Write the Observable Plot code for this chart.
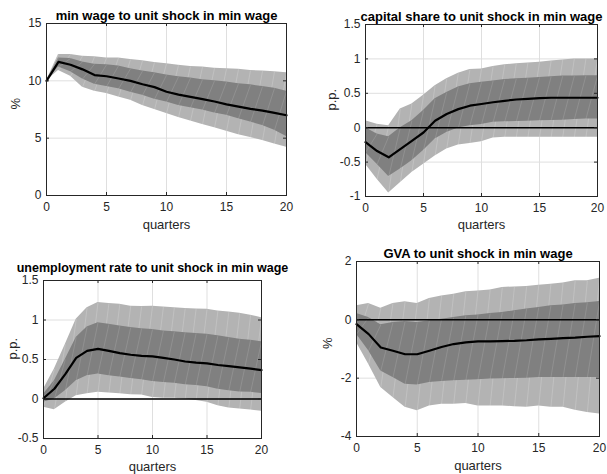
<!DOCTYPE html>
<html>
<head>
<meta charset="utf-8">
<script src="https://cdn.jsdelivr.net/npm/d3@7"></script>
<script src="https://cdn.jsdelivr.net/npm/@observablehq/plot@0.6"></script>
<style>
  html, body { margin: 0; padding: 0; background: #fff; }
  #root { position: relative; width: 607px; height: 474px; overflow: hidden; background: #fff; }
  .panel { position: absolute; }
  .panel svg { overflow: visible; }
</style>
</head>
<body>
<div id="root"></div>
<script>
// ---------- data ----------
const quarters = [0,1,2,3,4,5,6,7,8,9,10,11,12,13,14,15,16,17,18,19,20];
const xTicks = [0, 5, 10, 15, 20];

// Panel 1: min wage
const wageMed  = [10.0,11.65,11.4,11.0,10.5,10.4,10.2,10.0,9.7,9.45,9.05,8.8,8.6,8.4,8.2,7.95,7.75,7.55,7.4,7.2,7.0];
const wageHi90 = [10.0,12.3,12.3,12.15,12.1,12.0,12.0,11.85,11.75,11.6,11.5,11.35,11.25,11.2,11.1,11.05,11.0,10.9,10.85,10.8,10.7];
const wageHi68 = [10.0,12.0,11.95,11.65,11.45,11.4,11.3,11.05,10.85,10.7,10.5,10.35,10.25,10.1,10.0,9.9,9.75,9.65,9.5,9.35,9.1];
const wageLo68 = [10.0,11.2,10.8,10.15,9.7,9.5,9.3,9.0,8.75,8.4,8.15,7.85,7.65,7.45,7.2,7.0,6.7,6.4,6.1,5.7,5.15];
const wageLo90 = [10.0,10.9,10.4,9.45,9.1,8.9,8.6,8.3,7.85,7.5,7.15,6.8,6.5,6.2,5.9,5.6,5.3,5.05,4.8,4.5,4.2];
const wageYTicks = [0, 5, 10, 15];

// Panel 2: capital share
const capMed  = [-0.21,-0.34,-0.43,-0.31,-0.19,-0.07,0.10,0.20,0.27,0.32,0.345,0.37,0.39,0.41,0.42,0.43,0.435,0.435,0.435,0.435,0.435];
const capHi90 = [0.10,0.05,0.03,0.27,0.345,0.47,0.61,0.71,0.79,0.845,0.855,0.89,0.915,0.93,0.94,0.95,0.97,0.985,1.0,1.0,1.0];
const capHi68 = [0.0,-0.09,-0.13,0.0,0.10,0.25,0.42,0.51,0.59,0.64,0.66,0.68,0.70,0.71,0.72,0.73,0.74,0.75,0.75,0.755,0.755];
const capLo68 = [-0.36,-0.53,-0.71,-0.60,-0.48,-0.33,-0.165,-0.07,-0.005,0.03,0.045,0.08,0.085,0.09,0.095,0.10,0.105,0.11,0.12,0.125,0.125];
const capLo90 = [-0.53,-0.75,-0.95,-0.80,-0.65,-0.53,-0.41,-0.31,-0.25,-0.23,-0.205,-0.15,-0.14,-0.14,-0.14,-0.14,-0.14,-0.14,-0.14,-0.14,-0.14];
const capYTicks = [-1, -0.5, 0, 0.5, 1, 1.5];

// Panel 3: unemployment rate
const unMed  = [0.01,0.13,0.315,0.52,0.61,0.635,0.61,0.58,0.56,0.545,0.54,0.52,0.50,0.475,0.46,0.45,0.43,0.415,0.40,0.385,0.365];
const unHi90 = [0.125,0.38,0.69,1.01,1.155,1.22,1.21,1.20,1.175,1.17,1.175,1.165,1.155,1.145,1.14,1.135,1.115,1.10,1.085,1.06,1.03];
const unHi68 = [0.06,0.23,0.50,0.78,0.91,0.965,0.945,0.925,0.905,0.89,0.88,0.86,0.85,0.84,0.83,0.82,0.80,0.78,0.755,0.745,0.725];
const unLo68 = [-0.04,0.0,0.105,0.23,0.295,0.315,0.295,0.28,0.26,0.245,0.22,0.21,0.20,0.18,0.17,0.155,0.125,0.105,0.09,0.085,0.07];
const unLo90 = [-0.105,-0.135,-0.04,0.04,0.065,0.085,0.075,0.065,0.055,0.05,0.02,0.01,0.01,0.0,-0.02,-0.04,-0.085,-0.115,-0.125,-0.14,-0.155];
const unYTicks = [-0.5, 0, 0.5, 1, 1.5];

// Panel 4: GVA
const gvaMed  = [-0.15,-0.49,-0.95,-1.06,-1.18,-1.18,-1.06,-0.93,-0.83,-0.77,-0.74,-0.74,-0.73,-0.72,-0.70,-0.67,-0.65,-0.63,-0.61,-0.58,-0.56];
const gvaHi90 = [0.48,0.56,0.40,0.56,0.62,0.56,0.73,0.82,0.88,0.96,0.99,1.02,1.11,1.13,1.14,1.19,1.22,1.26,1.34,1.34,1.43];
const gvaHi68 = [0.22,0.08,-0.17,-0.09,-0.06,-0.09,-0.03,0.02,0.08,0.14,0.17,0.22,0.25,0.31,0.37,0.42,0.48,0.51,0.56,0.59,0.63];
const gvaLo68 = [-0.49,-1.06,-1.75,-1.98,-2.21,-2.23,-2.15,-2.11,-2.09,-2.07,-2.05,-2.03,-2.02,-2.01,-2.0,-1.98,-1.98,-1.98,-1.98,-1.98,-1.98];
const gvaLo90 = [-0.78,-1.52,-2.32,-2.66,-3.0,-3.12,-2.95,-2.89,-2.89,-2.87,-2.95,-2.95,-2.95,-2.98,-3.0,-2.95,-3.0,-3.0,-3.1,-3.18,-3.23];
const gvaYTicks = [-4, -2, 0, 2];

// ---------- drawing ----------
const FONT = "'Liberation Sans', Arial, Helvetica, sans-serif";
const AXIS = "#262626";
const GRID = "#dfdfdf";
const LIGHT = "#b3b3b3";
const DARK = "#808080";
const TICK_FS = 12;
const LABEL_FS = 13;

function makePanel(cfg) {
  const rows = quarters.map((q, i) => ({
    q, med: cfg.med[i], hi90: cfg.hi90[i], hi68: cfg.hi68[i], lo68: cfg.lo68[i], lo90: cfg.lo90[i]
  }));
  const seams = (lo, hi) => rows.slice(0, -1).map((r, i) => ({
    x1: r.q, y1: rows[i][lo], x2: rows[i + 1].q, y2: rows[i + 1][hi]
  }));
  const fw = cfg.width - cfg.ml - cfg.mr;
  const fh = cfg.height - cfg.mt - cfg.mb;
  const TL = 3;
  const fmt = d => String(d);
  const marks = [
    Plot.ruleX(xTicks, {stroke: GRID, strokeWidth: 1}),
    Plot.ruleY(cfg.yTicks, {stroke: GRID, strokeWidth: 1}),
    Plot.areaY(rows, {x: "q", y1: "lo90", y2: "hi90", fill: LIGHT}),
    Plot.link(seams("lo90", "hi90"), {x1: "x1", y1: "y1", x2: "x2", y2: "y2", stroke: "white", strokeOpacity: 0.3, strokeWidth: 0.6}),
    Plot.areaY(rows, {x: "q", y1: "lo68", y2: "hi68", fill: DARK}),
    Plot.link(seams("lo68", "hi68"), {x1: "x1", y1: "y1", x2: "x2", y2: "y2", stroke: "white", strokeOpacity: 0.22, strokeWidth: 0.6}),
  ];
  if (cfg.zero) marks.push(Plot.ruleY([0], {stroke: "black", strokeWidth: 1.5}));
  marks.push(
    Plot.lineY(rows, {x: "q", y: "med", stroke: "black", strokeWidth: 2.2}),
    Plot.frame({stroke: AXIS, strokeWidth: 1}),
    Plot.ruleX(xTicks, {stroke: AXIS, insetTop: fh - TL}),
    Plot.ruleX(xTicks, {stroke: AXIS, insetBottom: fh - TL}),
    Plot.ruleY(cfg.yTicks, {stroke: AXIS, insetRight: fw - TL}),
    Plot.ruleY(cfg.yTicks, {stroke: AXIS, insetLeft: fw - TL}),
    Plot.axisX(xTicks, {tickSize: 0, tickPadding: 7, tickFormat: fmt, label: null, fill: AXIS, fontSize: TICK_FS}),
    Plot.axisY(cfg.yTicks, {tickSize: 0, tickPadding: 5, tickFormat: fmt, label: null, fill: AXIS, fontSize: TICK_FS}),
    Plot.text(["quarters"], {frameAnchor: "bottom", dy: cfg.qdy, text: d => d, fill: AXIS, fontSize: LABEL_FS}),
    Plot.text([cfg.ylabel], {frameAnchor: "left", dx: -cfg.ydx, rotate: -90, text: d => d, fill: AXIS, fontSize: LABEL_FS}),
    Plot.text([cfg.title], {frameAnchor: "top", dy: -cfg.tdy, lineAnchor: "bottom", text: d => d, fill: "black", fontWeight: "bold", fontSize: cfg.tfs})
  );
  const svg = Plot.plot({
    width: cfg.width, height: cfg.height,
    marginLeft: cfg.ml, marginRight: cfg.mr, marginTop: cfg.mt, marginBottom: cfg.mb,
    x: {domain: [0, 20], axis: null},
    y: {domain: cfg.yDomain, axis: null},
    style: {fontFamily: FONT, fontSize: "12px", color: AXIS, background: "transparent", overflow: "visible"},
    marks
  });
  const div = document.createElement("div");
  div.className = "panel";
  div.style.left = cfg.left + "px";
  div.style.top = cfg.top + "px";
  div.appendChild(svg);
  document.getElementById("root").appendChild(div);
}

makePanel({
  left: 0, top: 0, width: 303, height: 237, ml: 46, mr: 17, mt: 23, mb: 42,
  med: wageMed, hi90: wageHi90, hi68: wageHi68, lo68: wageLo68, lo90: wageLo90,
  yDomain: [0, 15], yTicks: wageYTicks, zero: false,
  title: "min wage to unit shock in min wage", ylabel: "%", tdy: 4, ydx: 31, qdy: 33, tfs: 13
});
makePanel({
  left: 303, top: 0, width: 304, height: 237, ml: 62, mr: 10, mt: 24, mb: 41,
  med: capMed, hi90: capHi90, hi68: capHi68, lo68: capLo68, lo90: capLo90,
  yDomain: [-1, 1.5], yTicks: capYTicks, zero: true,
  title: "capital share to unit shock in min wage", ylabel: "p.p.", tdy: 4, ydx: 34, qdy: 32, tfs: 13
});
makePanel({
  left: 0, top: 237, width: 303, height: 237, ml: 43, mr: 42, mt: 43, mb: 36,
  med: unMed, hi90: unHi90, hi68: unHi68, lo68: unLo68, lo90: unLo90,
  yDomain: [-0.5, 1.5], yTicks: unYTicks, zero: true,
  title: "unemployment rate to unit shock in min wage", ylabel: "p.p.", tdy: 9, ydx: 31, qdy: 32, tfs: 12.5
});
makePanel({
  left: 303, top: 237, width: 304, height: 237, ml: 53, mr: 8, mt: 24, mb: 38,
  med: gvaMed, hi90: gvaHi90, hi68: gvaHi68, lo68: gvaLo68, lo90: gvaLo90,
  yDomain: [-4, 2], yTicks: gvaYTicks, zero: true,
  title: "GVA to unit shock in min wage", ylabel: "%", tdy: 4, ydx: 29, qdy: 33, tfs: 13
});
</script>
</body>
</html>
